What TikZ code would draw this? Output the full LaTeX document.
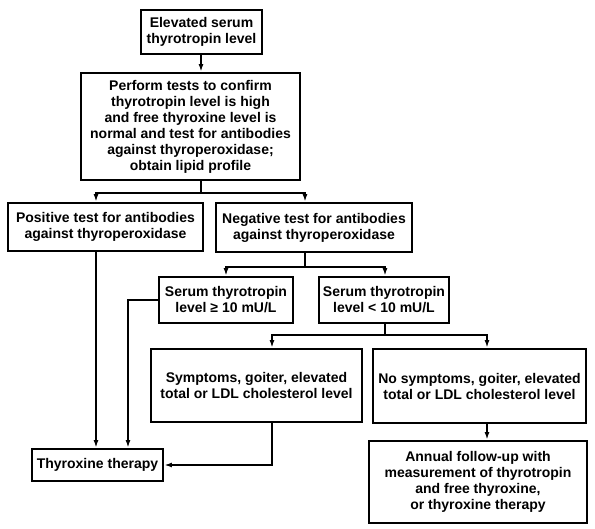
\documentclass[tikz,border=0pt]{standalone}
\usepackage{fontspec}
\setmainfont{Liberation Sans}
\usetikzlibrary{arrows.meta}
\begin{document}
\begin{tikzpicture}[x=1pt,y=-1pt,
  box/.style={draw, line width=2.8pt, align=center, inner sep=1pt,
    font=\bfseries\fontsize{14}{16}\selectfont},
  arr/.style={line width=2pt, -{Latex[length=7.5pt,width=5pt]}},
  conn/.style={line width=2pt}]
\useasboundingbox (0,0) rectangle (595,529);
\node[box, minimum width=121, minimum height=44] (b1) at (201.5,32) {Elevated serum\\thyrotropin level};
\node[box, minimum width=219, minimum height=107] (b2) at (190.5,126.5) {Perform tests to confirm\\thyrotropin level is high\\and free thyroxine level is\\normal and test for antibodies\\against thyroperoxidase;\\obtain lipid profile};
\node[box, minimum width=195, minimum height=48] (b3) at (105.5,227) {Positive test for antibodies\\against thyroperoxidase};
\node[box, minimum width=196, minimum height=49] (b4) at (314,227.5) {Negative test for antibodies\\against thyroperoxidase};
\node[box, minimum width=134, minimum height=46] (b5) at (226,300) {Serum thyrotropin\\level ≥ 10 mU/L};
\node[box, minimum width=130, minimum height=46] (b6) at (384,300) {Serum thyrotropin\\level < 10 mU/L};
\node[box, minimum width=211, minimum height=73] (b7) at (256.5,385.5) {Symptoms, goiter, elevated\\total or LDL cholesterol level};
\node[box, minimum width=213, minimum height=74] (b8) at (479.5,386) {No symptoms, goiter, elevated\\total or LDL cholesterol level};
\node[box, minimum width=218, minimum height=82] (b9) at (478,482) {Annual follow-up with\\measurement of thyrotropin\\and free thyroxine,\\or thyroxine therapy};
\node[box, minimum width=131, minimum height=32] (b10) at (97.5,465) {Thyroxine therapy};
% junction coordinates
\coordinate (j1) at (201,193);
\coordinate (c96) at (96,193);
\coordinate (c306) at (305,193);
\coordinate (j2) at (305,267);
\coordinate (c226) at (226,267);
\coordinate (c385) at (385,267);
\coordinate (j3) at (385,335);
\coordinate (c272) at (272,335);
\coordinate (c487) at (487,335);
\coordinate (k5) at (128,300);
% connectors
\draw[arr] (b1.south -| j1) -- (b2.north -| j1);
\draw[conn] (b2.south -| j1) -- (j1);
\draw[arr] (j1) -- (c96) -- (b3.north -| c96);
\draw[arr] (j1) -- (c306) -- (b4.north -| c306);
\draw[conn] (b4.south -| j2) -- (j2);
\draw[arr] (j2) -- (c226) -- (b5.north -| c226);
\draw[arr] (j2) -- (c385) -- (b6.north -| c385);
\draw[conn] (b6.south -| j3) -- (j3);
\draw[arr] (j3) -- (c272) -- (b7.north -| c272);
\draw[arr] (j3) -- (c487) -- (b8.north -| c487);
\draw[arr] (b8.south -| c487) -- (b9.north -| c487);
\draw[arr] (b7.south -| c272) |- (b10.east);
\draw[arr] (b3.south -| c96) -- (b10.north -| c96);
\draw[arr] (b5.west) -- (k5) -- (b10.north -| k5);
\end{tikzpicture}
\end{document}
